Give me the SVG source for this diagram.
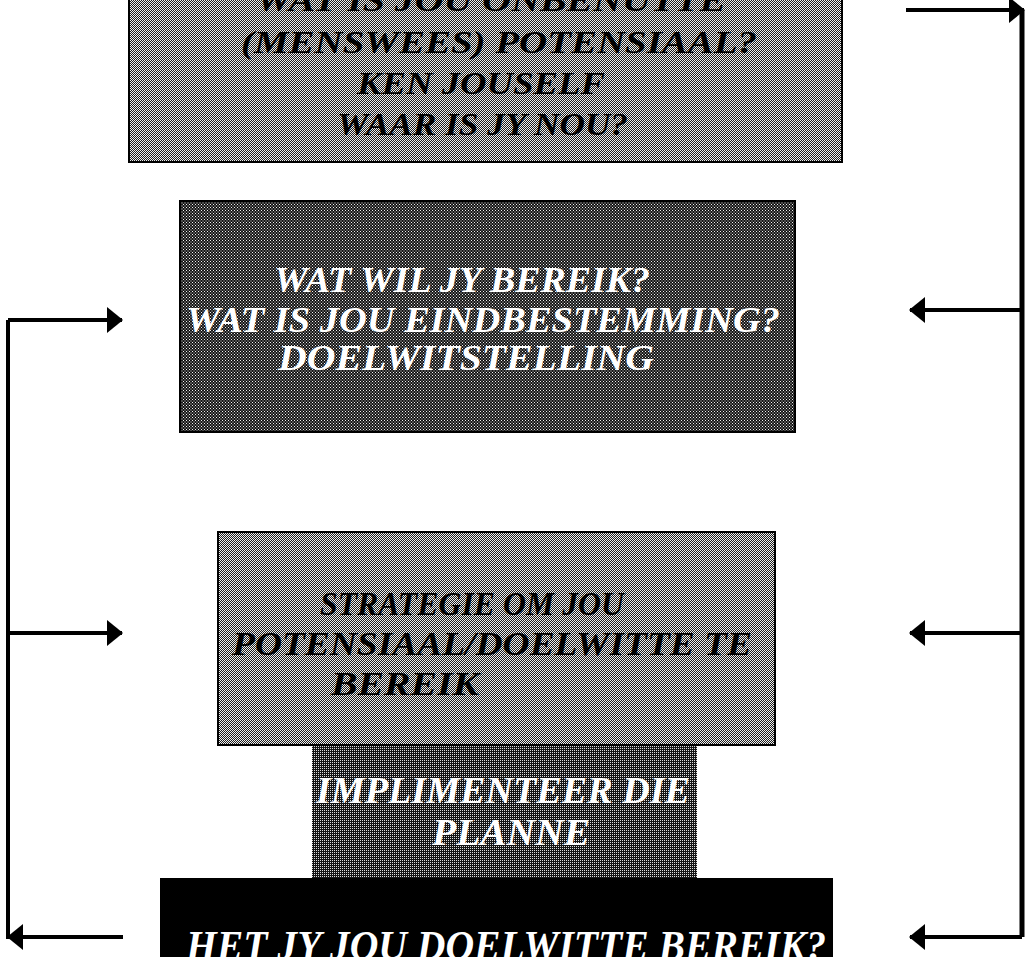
<svg xmlns="http://www.w3.org/2000/svg" width="1028" height="957" viewBox="0 0 1028 957">
  <defs>
    <!-- halftone screens used as box fills -->
    <pattern id="screenMid" width="2" height="2" patternUnits="userSpaceOnUse">
      <rect width="2" height="2" fill="#1e1e1e"/>
      <rect x="0" y="0" width="1" height="1" fill="#eeeeee"/>
      <rect x="1" y="1" width="1" height="1" fill="#eeeeee"/>
    </pattern>
    <pattern id="screenDark" width="3" height="3" patternUnits="userSpaceOnUse">
      <rect width="3" height="3" fill="#141414"/>
      <rect x="0" y="0" width="1" height="1" fill="#f0f0f0"/>
      <rect x="1.5" y="1.5" width="1" height="1" fill="#f0f0f0"/>
    </pattern>
    <pattern id="screenDark2" width="2" height="2" patternUnits="userSpaceOnUse">
      <rect width="2" height="2" fill="#141414"/>
      <rect x="0" y="0" width="1" height="1" fill="#dcdcdc"/>
    </pattern>
    <marker id="head" viewBox="0 0 16 26" refX="15" refY="13" markerWidth="16" markerHeight="26" markerUnits="userSpaceOnUse" orient="auto">
      <path d="M0,0 L16,13 L0,26 Z" fill="#000"/>
    </marker>
  </defs>
  <style>
    .box { stroke: #000; stroke-width: 2; }
    .lbl { font-family: "Liberation Serif", "Times New Roman", serif; font-weight: bold; font-style: italic; }
    .dk { fill: #000; }
    .lt { fill: #fff; }
    .wire { fill: none; stroke: #000; stroke-width: 4; }
  </style>

  <rect width="1028" height="957" fill="#fff"/>

  <g id="node-potensiaal">
    <rect class="box" x="129" y="-4" width="713" height="166" fill="url(#screenMid)"/>
    <text class="lbl dk" font-size="31" x="256" y="11" textLength="470" lengthAdjust="spacingAndGlyphs">WAT IS JOU ONBENUTTE</text>
    <text class="lbl dk" font-size="31" x="241" y="53" textLength="516" lengthAdjust="spacingAndGlyphs">(MENSWEES) POTENSIAAL?</text>
    <text class="lbl dk" font-size="31" x="357" y="94" textLength="248" lengthAdjust="spacingAndGlyphs">KEN JOUSELF</text>
    <text class="lbl dk" font-size="31" x="337" y="135" textLength="291" lengthAdjust="spacingAndGlyphs">WAAR IS JY NOU?</text>
  </g>

  <g id="node-doel">
    <rect class="box" x="180" y="201" width="615" height="231" fill="url(#screenDark)"/>
    <text class="lbl lt" font-size="36" x="274" y="292" textLength="376" lengthAdjust="spacingAndGlyphs">WAT WIL JY BEREIK?</text>
    <text class="lbl lt" font-size="36" x="186" y="332" textLength="594" lengthAdjust="spacingAndGlyphs">WAT IS JOU EINDBESTEMMING?</text>
    <text class="lbl lt" font-size="36" x="278" y="370" textLength="376" lengthAdjust="spacingAndGlyphs">DOELWITSTELLING</text>
  </g>

  <g id="node-strategie">
    <rect class="box" x="218" y="532" width="557" height="213" fill="url(#screenMid)"/>
    <text class="lbl dk" font-size="33" x="320" y="615" textLength="304" lengthAdjust="spacingAndGlyphs">STRATEGIE OM JOU</text>
    <text class="lbl dk" font-size="33" x="232" y="655" textLength="520" lengthAdjust="spacingAndGlyphs">POTENSIAAL/DOELWITTE TE</text>
    <text class="lbl dk" font-size="33" x="331" y="695" textLength="148" lengthAdjust="spacingAndGlyphs">BEREIK</text>
  </g>

  <g id="node-implimenteer">
    <rect x="312" y="746" width="385" height="132" fill="url(#screenDark2)"/>
    <text class="lbl lt" font-size="38" x="316" y="803" textLength="374" lengthAdjust="spacingAndGlyphs">IMPLIMENTEER DIE</text>
    <text class="lbl lt" font-size="38" x="432" y="845" textLength="158" lengthAdjust="spacingAndGlyphs">PLANNE</text>
  </g>

  <g id="node-bereik">
    <rect x="160" y="878" width="673" height="84" fill="#000"/>
    <text class="lbl lt" font-size="42" x="186" y="960" textLength="640" lengthAdjust="spacingAndGlyphs">HET JY JOU DOELWITTE BEREIK?</text>
  </g>

  <g id="connectors">
    <!-- left feedback loop -->
    <path class="wire" d="M123,937 H8 V320"/>
    <path class="wire" d="M8,320 H122" marker-end="url(#head)"/>
    <path class="wire" d="M8,633 H122" marker-end="url(#head)"/>
    <path class="wire" d="M40,937 H8" marker-end="url(#head)"/>
    <!-- right feedback loop -->
    <path class="wire" d="M906,10 H1024" marker-end="url(#head)"/>
    <path class="wire" style="stroke-width:5" d="M1022,10 V937"/>
    <path class="wire" d="M1022,310 H910" marker-end="url(#head)"/>
    <path class="wire" d="M1022,633 H910" marker-end="url(#head)"/>
    <path class="wire" d="M1022,937 H910" marker-end="url(#head)"/>
  </g>
</svg>
